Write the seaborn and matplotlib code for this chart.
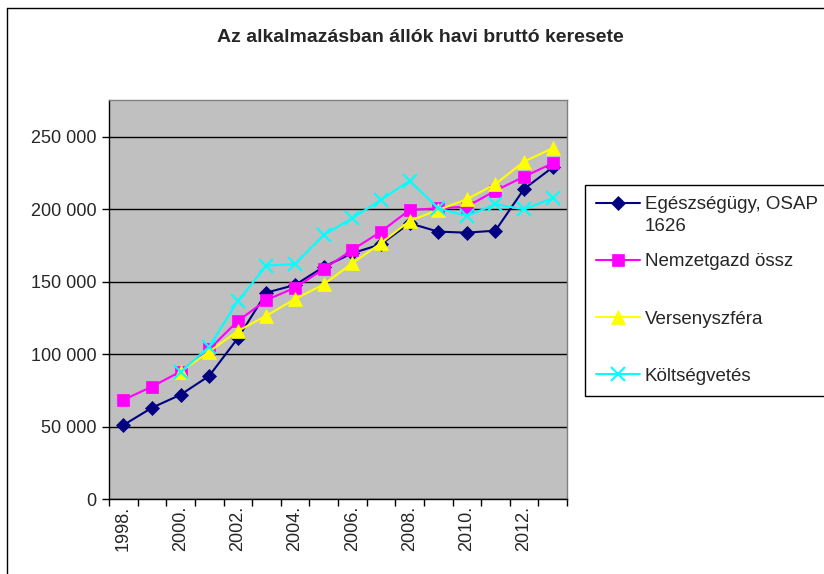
import numpy as np
import pandas as pd
import matplotlib
matplotlib.use("Agg")
import matplotlib.pyplot as plt
import seaborn as sns
from matplotlib.lines import Line2D

years = list(range(1998, 2014))
egeszseg = [51000, 63000, 72000, 85000, 111000, 142500, 147800, 160300, 169700, 175900,
            190400, 184600, 183900, 185300, 214100, 229000]
nemzet = [68400, 77600, 88000, 103400, 122900, 137400, 145900, 158800, 172000, 184600,
          199600, 200700, 201900, 212900, 222600, 231800]
verseny = [np.nan, np.nan, 88000, 101700, 116000, 126600, 138100, 148200, 162800, 176600,
           192000, 199600, 207000, 217500, 233000, 242200]
koltseg = [np.nan, np.nan, 87500, 105200, 136700, 161100, 162300, 182300, 193900, 206500,
           219800, 200700, 195400, 203500, 200000, 207700]
series_names = ["Egészségügy, OSAP", "Nemzetgazd össz", "Versenyszféra", "Költségvetés"]
first_name_line2 = "1626"
title = "Az alkalmazásban állók havi bruttó keresete"

sns.set_style("white")
plt.rcParams['font.family'] = ['Liberation Sans', 'DejaVu Sans']

fig = plt.figure(figsize=(8.24, 5.74), dpi=100)
W, H = 824, 574
ax = fig.add_axes([109 / W, 1 - 499 / H, 458 / W, 399 / H])
ax.set_facecolor("#C0C0C0")

idx = np.arange(len(years))
styles = [
    ("#000080", "D", 7.5, 1.5),
    ("#FF00FF", "s", 8.5, 1.5),
    ("#FFFF00", "^", 9.5, 1.5),
    ("#00FFFF", "x", 9.5, 1.5),
]
data = [egeszseg, nemzet, verseny, koltseg]
handles = []
for name, vals, (col, mk, ms, lw) in zip(series_names, data, styles):
    df = pd.DataFrame({"x": idx, "y": vals}).dropna()
    sns.lineplot(data=df, x="x", y="y", ax=ax, color=col, marker=mk, markersize=ms,
                 markeredgecolor=col, markeredgewidth=1.5 if mk == "x" else 0.5,
                 linewidth=lw, legend=False, zorder=3)
    handles.append(Line2D([], [], color=col, marker=mk, markersize=ms,
                          markeredgecolor=col, markeredgewidth=1.5 if mk == "x" else 0.5,
                          linewidth=lw))

ax.set_xlim(-0.5, len(years) - 0.5)
ax.set_ylim(0, 275500)
yt = np.arange(0, 250001, 50000)
ax.set_yticks(yt)
ax.set_yticklabels([f"{v:,}".replace(",", " ") for v in yt], fontsize=13)
ax.yaxis.grid(True, color="black", linewidth=1)
ax.xaxis.grid(False)
ax.set_axisbelow(True)

ax.set_xticks(np.arange(-0.5, len(years), 1))
ax.set_xticklabels([])
ax.set_xticks(idx[::2], minor=True)
ax.set_xticklabels([f"{y}." for y in years[::2]], minor=True, rotation=90,
                   fontsize=13, va="top")
ax.tick_params(axis="x", which="major", direction="out", length=5, width=1,
               color="black", bottom=True)
ax.tick_params(axis="x", which="minor", length=0, pad=5, bottom=True)
ax.tick_params(axis="y", direction="out", length=5, width=1, color="black", left=True, pad=4)
ax.set_xlabel("")
ax.set_ylabel("")

for s in ["left", "bottom"]:
    ax.spines[s].set_color("black")
    ax.spines[s].set_linewidth(1)
for s in ["top", "right"]:
    ax.spines[s].set_visible(True)
    ax.spines[s].set_color("#808080")
    ax.spines[s].set_linewidth(1)

fig.text(420 / W, 1 - 38 / H, title, ha="center", va="center",
         fontsize=14, fontweight="bold")

# outer chart frame (cropped at right and bottom)
fig.add_artist(Line2D([7.5 / W, 7.5 / W], [0, 1 - 7.5 / H], color="black", linewidth=1,
                      transform=fig.transFigure))
fig.add_artist(Line2D([7.5 / W, 1], [1 - 7.5 / H, 1 - 7.5 / H], color="black", linewidth=1,
                      transform=fig.transFigure))

leg = ax.legend(handles, series_names, loc="upper left",
                bbox_to_anchor=(585 / W, 1 - 185 / H), bbox_transform=fig.transFigure,
                borderaxespad=0, frameon=True, fancybox=False, framealpha=1,
                edgecolor="black", fontsize=13.5, handlelength=2.35, handletextpad=0.25,
                labelspacing=2.13, borderpad=0.6)
leg.get_frame().set_linewidth(1)
ax.annotate(first_name_line2, xy=(0, 0), xycoords=leg.get_texts()[0],
            xytext=(0, -3), textcoords="offset points", ha="left", va="top",
            fontsize=13.5, zorder=10, annotation_clip=False)

fig.savefig("out.png", dpi=100, facecolor="white")
